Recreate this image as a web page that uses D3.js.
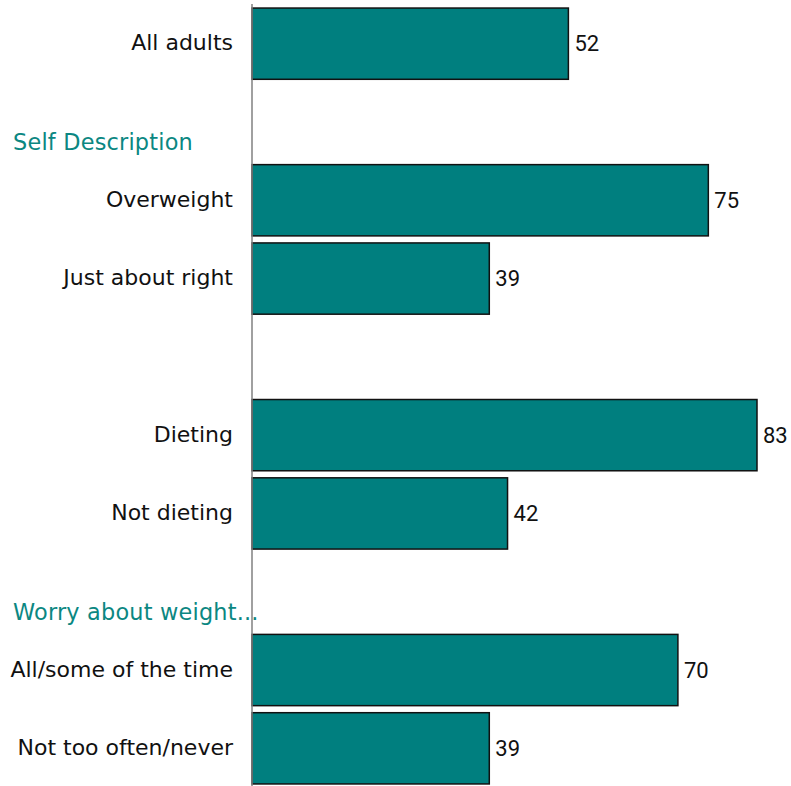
<!DOCTYPE html>
<html>
<head>
<meta charset="utf-8">
<script src="https://cdn.jsdelivr.net/npm/d3@7"></script>
<style>
  html, body { margin: 0; padding: 0; background: #fff; }
  svg { display: block; }
</style>
</head>
<body>
<svg id="chart" width="791" height="786"></svg>
<script>
// Rows in display order; header rows carry no value
const rowKeys   = ["all", "h1", "over", "right", "h2", "diet", "nodiet", "h3", "worry", "never"];
const rowLabels = ["All adults", "Self Description", "Overweight", "Just about right", "",
                   "Dieting", "Not dieting", "Worry about weight...", "All/some of the time", "Not too often/never"];
const rowIsHeader = [false, true, false, false, true, false, false, true, false, false];
const values    = [52, null, 75, 39, null, 83, 42, null, 70, 39];

const svg = d3.select("#chart");
const W = 791, H = 786;
const x0 = 252;

const x = d3.scaleLinear().domain([0, 83]).range([x0, 757]);
const y = d3.scaleBand().domain(rowKeys).range([1, 791]).paddingInner(0.09).paddingOuter(0.09);

const rows = rowKeys.map((k, i) => ({ key: k, label: rowLabels[i], header: rowIsHeader[i], value: values[i] }));
const bars = rows.filter(d => !d.header);
const headers = rows.filter(d => d.header);

const labelFont = "'DejaVu Sans', Verdana, sans-serif";

// bars
svg.append("g").selectAll("rect").data(bars).join("rect")
  .attr("x", x(0))
  .attr("y", d => y(d.key))
  .attr("width", d => x(d.value) - x(0))
  .attr("height", y.bandwidth())
  .attr("fill", "#007f7f")
  .attr("stroke", "#111")
  .attr("stroke-width", 1.5);

// vertical category axis line
svg.append("line")
  .attr("x1", x0).attr("x2", x0)
  .attr("y1", 4).attr("y2", H)
  .attr("stroke", "#808080").attr("stroke-width", 1.5);

// category labels
svg.append("g").selectAll("text").data(bars).join("text")
  .attr("x", 233)
  .attr("y", d => y(d.key) + y.bandwidth() / 2 - 1)
  .attr("dy", "0.35em")
  .attr("text-anchor", "end")
  .attr("font-family", labelFont)
  .attr("font-size", 22)
  .attr("fill", "#111")
  .text(d => d.label);

// group headers
svg.append("g").selectAll("text").data(headers).join("text")
  .attr("x", 13)
  .attr("y", d => y(d.key) + y.bandwidth() / 2 + 20)
  .attr("dy", "0.35em")
  .attr("font-family", labelFont)
  .attr("font-size", 22.4)
  .attr("letter-spacing", 0.2)
  .attr("fill", "#0b8782")
  .text(d => d.label);

// value labels
svg.append("g").selectAll("text").data(bars).join("text")
  .attr("x", d => x(d.value) + 6)
  .attr("y", d => y(d.key) + y.bandwidth() / 2)
  .attr("dy", "0.35em")
  .attr("font-family", "Roboto, 'Liberation Sans', sans-serif")
  .attr("font-size", 22)
  .attr("fill", "#111")
  .text(d => d.value);
</script>
</body>
</html>
